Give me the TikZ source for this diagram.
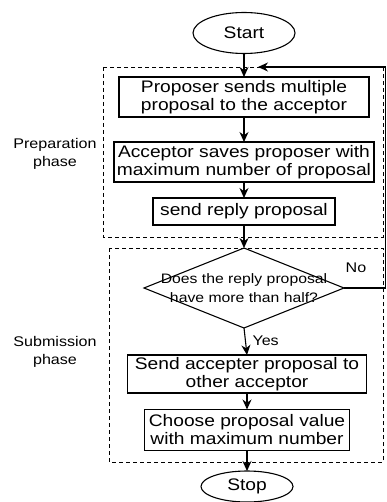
\documentclass[tikz,border=0pt]{standalone}
\usepackage{fontspec}
\setmainfont{Liberation Sans}[FakeStretch=1.15]
\usetikzlibrary{shapes.geometric,arrows.meta}
\begin{document}
\begin{tikzpicture}[x=1pt,y=-1pt,
  line width=1.1pt,
  every node/.style={inner sep=0pt, outer sep=0pt},
  proc/.style={draw, rectangle, align=center, font=\fontsize{16.7}{18}\selectfont},
  term/.style={draw, ellipse, font=\fontsize{16.7}{18}\selectfont},
  decision/.style={draw, diamond, minimum width=200pt, minimum height=80pt},
  qtext/.style={align=center, font=\fontsize{13.7}{19}\selectfont},
  phase/.style={align=center, font=\fontsize{14}{18}\selectfont},
  small/.style={font=\fontsize{14}{16}\selectfont},
  group/.style={draw, dashed, dash pattern=on 4pt off 3pt, line width=0.9pt},
  flow/.style={-{Stealth[length=10pt,width=9pt]}},
]
\useasboundingbox (0,0) rectangle (386,502);

% phase frames
\draw[group] (103,67) rectangle (383,237);
\draw[group] (109,248) rectangle (383,462);

% terminals
\node[term, minimum width=102pt, minimum height=41pt] (start) at (244,33) {Start};
\node[term, minimum width=92pt, minimum height=31pt] (stop) at (247,486.5) {Stop};

% preparation steps
\node[proc, minimum width=250pt, minimum height=40pt] (p1) at (244,97)
  {Proposer sends multiple\\proposal to the acceptor};
\node[proc, minimum width=260pt, minimum height=40pt] (p2) at (244,162)
  {Acceptor saves proposer with\\maximum number of proposal};
\node[proc, minimum width=182pt, minimum height=27pt] (p3) at (244,211.5)
  {send reply proposal};

% decision
\node[decision] (q) at (244,288) {};
\node[qtext] (qt) at (q.center) {Does the reply proposal\\have more than half?};

% submission steps
\node[proc, minimum width=239pt, minimum height=38pt] (s1) at (247,374)
  {Send accepter proposal to\\other acceptor};
\node[proc, minimum width=205pt, minimum height=41pt] (s2) at (247,430)
  {Choose proposal value\\with maximum number};

% phase labels
\node[phase] (lprep) at (55,154) {Preparation\\phase};
\node[phase] (lsub) at (55,352) {Submission\\phase};

% main flow
\draw[flow] (start.south) -- (p1.north);
\draw[flow] (p1.south) -- (p2.north);
\draw[flow] (p2.south) -- (p3.north);
\draw[flow] (p3.south) -- (q.north);
\draw[flow] (q.south) -- node[small, anchor=west, xshift=7pt, yshift=1pt] (yes) {Yes} (s1.north);
\draw[flow] (s1.south) -- (s2.north);
\draw[flow] (s2.south) -- (stop.north);

% loop back when no majority
\coordinate (back) at (258,67);
\draw[flow] (q.east) -- (385.5,288) -- (385.5,67) -- (back);
\node[small] (no) at (356,268) {No};
\end{tikzpicture}
\end{document}
